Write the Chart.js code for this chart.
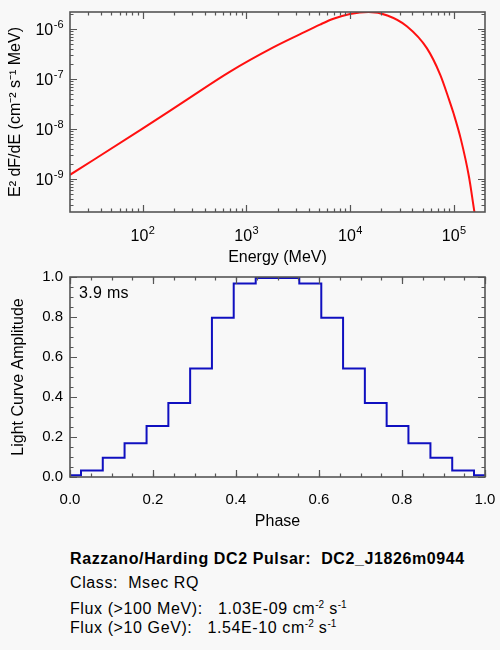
<!DOCTYPE html>
<html>
<head>
<meta charset="utf-8">
<script src="https://cdn.jsdelivr.net/npm/chart.js@4.4.1/dist/chart.umd.min.js"></script>
<style>
  html, body { margin: 0; padding: 0; background: #f8f8f8; }
  #page { position: relative; width: 500px; height: 650px; background: #f8f8f8;
          font-family: "Liberation Sans", Arial, Helvetica, sans-serif; color: #000; }
  canvas { position: absolute; left: 0; }
  #spec { top: 0; }
  #lc { top: 270px; }
  .txt { position: absolute; font-size: 16px; line-height: 16px; white-space: pre; letter-spacing: 0.6px; }
  .txt sup { font-size: 10px; line-height: 0; vertical-align: 6px; letter-spacing: 0; }
</style>
</head>
<body>
<div id="page">
  <canvas id="spec" width="500" height="270"></canvas>
  <canvas id="lc" width="500" height="270"></canvas>
  <div class="txt" style="left:79px; top:285px; letter-spacing:0.3px;">3.9 ms</div>
  <div class="txt" style="left:70px; top:551px; font-weight:bold;">Razzano/Harding DC2 Pulsar:  DC2_J1826m0944</div>
  <div class="txt" style="left:70px; top:575px;">Class:  Msec RQ</div>
  <div class="txt" style="left:70px; top:601px;">Flux (&gt;100 MeV):   1.03E-09 cm<sup>-2</sup> s<sup>-1</sup></div>
  <div class="txt" style="left:70px; top:620px;">Flux (&gt;10 GeV):   1.54E-10 cm<sup>-2</sup> s<sup>-1</sup></div>
</div>
<script>
// spectrum
const energy = [20, 100, 257, 692, 1820, 3310, 5130, 6920, 10000, 15100, 22900,
                35500, 55000, 74100, 89700, 100000, 117000, 140000, 158000, 178000];
const e2dnde = [1.22e-9, 1.02e-8, 3.68e-8, 1.40e-7, 4.31e-7, 7.94e-7, 1.23e-6, 1.61e-6, 2.0e-6, 2.19e-6, 1.87e-6,
                1.13e-6, 4.17e-7, 1.22e-7, 3.98e-8, 2.0e-8, 6.31e-9, 1.13e-9, 2.24e-10, 5e-11];
const energyTicks = [1e2, 1e3, 1e4, 1e5];
const energyTickExp = ['2', '3', '4', '5'];
const fluxTicks = [1e-9, 1e-8, 1e-7, 1e-6];
const fluxTickExp = ['-9', '-8', '-7', '-6'];

// light curve (20 phase bins)
const phase = [0.000, 0.053, 0.105, 0.158, 0.211, 0.263, 0.316, 0.368, 0.421, 0.474,
               0.526, 0.579, 0.632, 0.684, 0.737, 0.789, 0.842, 0.895, 0.947, 1.000];
const amplitude = [0.009, 0.033, 0.096, 0.169, 0.255, 0.37, 0.542, 0.796, 0.968, 0.995,
                   0.995, 0.968, 0.796, 0.542, 0.37, 0.255, 0.169, 0.096, 0.033, 0.009];
const phaseTicks = [0, 0.2, 0.4, 0.6, 0.8, 1.0];
const phaseTickLabels = ['0.0', '0.2', '0.4', '0.6', '0.8', '1.0'];
const ampTicks = [0, 0.2, 0.4, 0.6, 0.8, 1.0];
const ampTickLabels = ['0.0', '0.2', '0.4', '0.6', '0.8', '1.0'];

const FONT = '"Liberation Sans", Arial, Helvetica, sans-serif';
Chart.defaults.font.family = FONT;
Chart.defaults.font.size = 15;
Chart.defaults.color = '#000';

function logMinor(min, max) {
  const out = [];
  for (let d = Math.floor(Math.log10(min)); d <= Math.ceil(Math.log10(max)); d++) {
    for (let m = 2; m <= 9; m++) {
      const v = m * Math.pow(10, d);
      if (v > min && v < max) out.push(v);
    }
  }
  return out;
}
function linMinor(min, max, step) {
  const out = [];
  for (let v = min; v <= max + 1e-9; v += step) out.push(v);
  return out;
}

// IDL style box with inward ticks on all four sides
const frame = {
  id: 'frame',
  afterDraw(chart, args, opts) {
    const { ctx, chartArea: a, scales } = chart;
    ctx.save();
    ctx.strokeStyle = '#555';
    ctx.lineWidth = 1.2;
    const xTick = (v, len) => {
      const p = Math.round(scales.x.getPixelForValue(v)) + 0.5;
      ctx.beginPath();
      ctx.moveTo(p, a.bottom); ctx.lineTo(p, a.bottom - len);
      ctx.moveTo(p, a.top); ctx.lineTo(p, a.top + len);
      ctx.stroke();
    };
    const yTick = (v, len) => {
      const p = Math.round(scales.y.getPixelForValue(v)) + 0.5;
      ctx.beginPath();
      ctx.moveTo(a.left, p); ctx.lineTo(a.left + len, p);
      ctx.moveTo(a.right, p); ctx.lineTo(a.right - len, p);
      ctx.stroke();
    };
    opts.xMinor.forEach(v => xTick(v, 3.5));
    opts.yMinor.forEach(v => yTick(v, 3.5));
    scales.x.ticks.forEach(t => xTick(t.value, 7));
    scales.y.ticks.forEach(t => yTick(t.value, 7));
    ctx.lineWidth = 1.6;
    ctx.strokeRect(a.left, a.top, a.right - a.left, a.bottom - a.top);
    ctx.restore();
  }
};

// "10" with a raised exponent for the log axes
const powerLabels = {
  id: 'powerLabels',
  afterDraw(chart, args, opts) {
    if (!opts.xExp) return;
    const { ctx, chartArea: a, scales: { x, y } } = chart;
    ctx.save();
    ctx.fillStyle = '#000';
    ctx.textAlign = 'left';
    ctx.textBaseline = 'alphabetic';
    const big = '16px ' + FONT, small = '11px ' + FONT;
    const put = (exp, px, py, align) => {
      ctx.font = big;
      const wb = ctx.measureText('10').width;
      ctx.font = small;
      const we = ctx.measureText(exp).width;
      const left = align === 'center' ? px - (wb + we) / 2 : px - (wb + we);
      ctx.font = big;
      ctx.fillText('10', left, py);
      ctx.font = small;
      ctx.fillText(exp, left + wb + 0.5, py - 7.5);
    };
    x.ticks.forEach((t, i) => put(opts.xExp[i], x.getPixelForValue(t.value), a.bottom + 29, 'center'));
    y.ticks.forEach((t, i) => put(opts.yExp[i], a.left - 7, y.getPixelForValue(t.value) + 6, 'right'));
    ctx.restore();
  }
};

const noGrid = { display: false, drawTicks: false };
// keep the plot box fixed: no extra room for overhanging tick labels
const fixX = h => s => { s.height = h; s.paddingLeft = 0; s.paddingRight = 0; };
const fixY = w => s => { s.width = w; s.paddingTop = 0; s.paddingBottom = 0; };

new Chart(document.getElementById('spec'), {
  type: 'line',
  data: {
    datasets: [{
      data: energy.map((e, i) => ({ x: e, y: e2dnde[i] })),
      borderColor: '#ff1010',
      borderWidth: 2,
      pointRadius: 0,
      cubicInterpolationMode: 'monotone',
      fill: false
    }]
  },
  options: {
    responsive: false,
    animation: false,
    layout: { padding: { top: 12, right: 15, left: 0, bottom: 0 } },
    plugins: {
      legend: { display: false },
      tooltip: { enabled: false },
      frame: { xMinor: logMinor(20, 2e5), yMinor: logMinor(2.2e-10, 2.2e-6) },
      powerLabels: { xExp: energyTickExp, yExp: fluxTickExp }
    },
    scales: {
      x: {
        type: 'logarithmic', min: 20, max: 2e5,
        afterBuildTicks: s => { s.ticks = energyTicks.map(v => ({ value: v })); },
        afterFit: fixX(58),
        grid: noGrid, border: { display: false },
        ticks: { display: false },
        title: { display: true, text: 'Energy (MeV)', font: { size: 16 }, padding: { top: 0, bottom: 3 } }
      },
      y: {
        type: 'logarithmic', min: 2.2e-10, max: 2.2e-6,
        afterBuildTicks: s => { s.ticks = fluxTicks.map(v => ({ value: v })); },
        afterFit: fixY(70),
        grid: noGrid, border: { display: false },
        ticks: { display: false },
        title: { display: true, text: 'E² dF/dE (cm⁻² s⁻¹ MeV)', font: { size: 16 }, padding: { top: 6, bottom: 0 } }
      }
    }
  },
  plugins: [frame, powerLabels]
});

new Chart(document.getElementById('lc'), {
  type: 'line',
  data: {
    datasets: [{
      data: phase.map((p, i) => ({ x: p, y: amplitude[i] })),
      borderColor: '#1010c0',
      borderWidth: 2,
      pointRadius: 0,
      stepped: 'middle',
      fill: false
    }]
  },
  options: {
    responsive: false,
    animation: false,
    layout: { padding: { top: 7, right: 15, left: 0, bottom: 0 } },
    plugins: {
      legend: { display: false },
      tooltip: { enabled: false },
      frame: { xMinor: linMinor(0, 1, 0.05), yMinor: linMinor(0, 1, 0.05) }
    },
    scales: {
      x: {
        type: 'linear', min: 0, max: 1,
        afterBuildTicks: s => { s.ticks = phaseTicks.map(v => ({ value: v })); },
        afterFit: fixX(63),
        grid: noGrid, border: { display: false },
        ticks: { autoSkip: false, maxRotation: 0, padding: 14,
                 callback: (v, i) => phaseTickLabels[i] },
        title: { display: true, text: 'Phase', font: { size: 16 }, padding: { top: 0, bottom: 9 } }
      },
      y: {
        type: 'linear', min: 0, max: 1,
        afterBuildTicks: s => { s.ticks = ampTicks.map(v => ({ value: v })); },
        afterFit: fixY(70),
        grid: noGrid, border: { display: false },
        ticks: { autoSkip: false, padding: 7,
                 callback: (v, i) => ampTickLabels[i] },
        title: { display: true, text: 'Light Curve Amplitude', font: { size: 16 }, padding: { top: 9, bottom: 0 } }
      }
    }
  },
  plugins: [frame]
});
</script>
</body>
</html>
